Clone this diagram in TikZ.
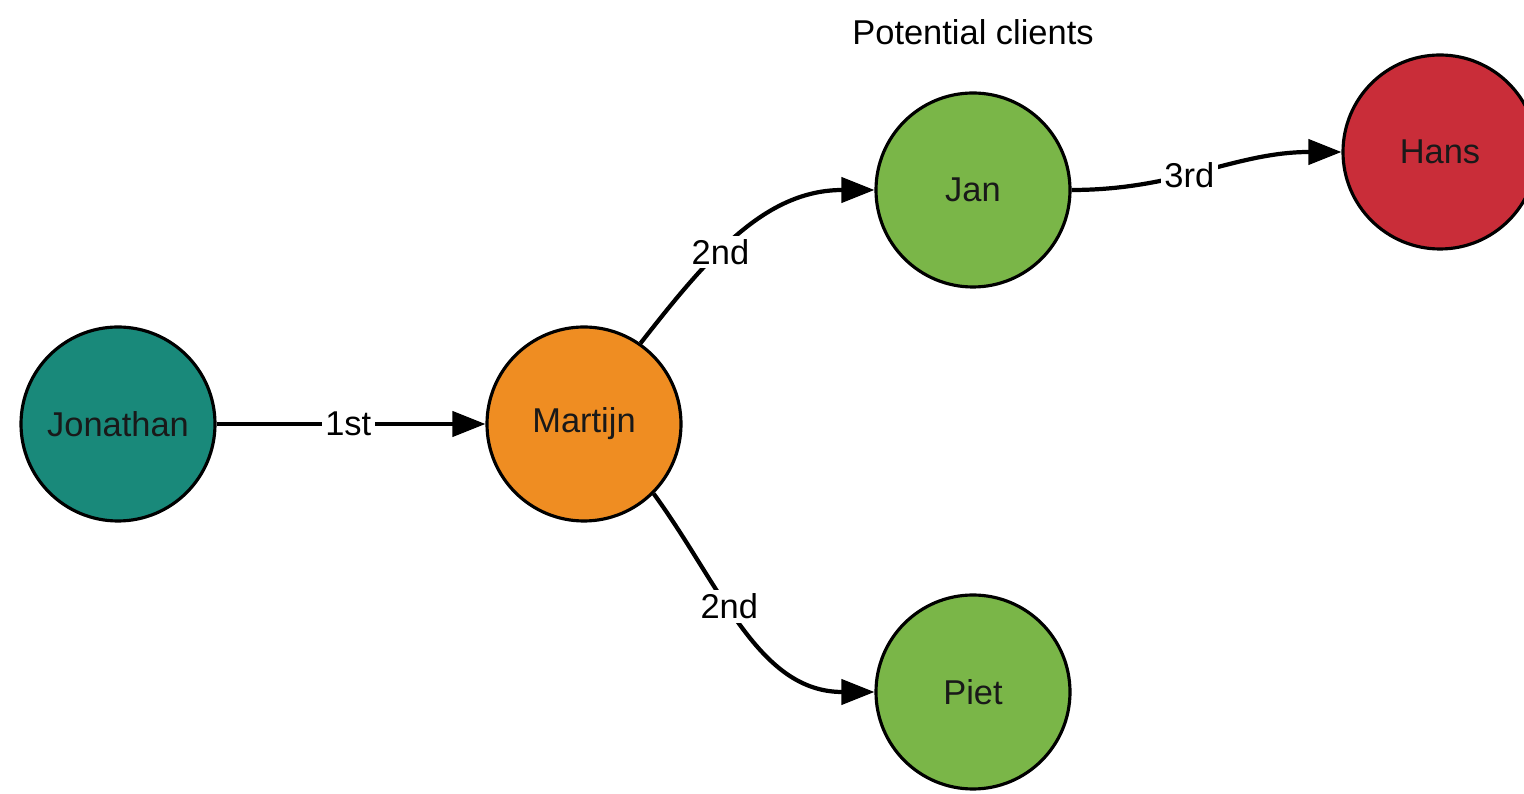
\documentclass[tikz,border=0pt]{standalone}
\usepackage{fontspec}
\setmainfont{Liberation Sans}
\usepackage{tikz}
\usetikzlibrary{arrows.meta}
\usetikzlibrary{positioning}
\usepackage{xcolor}
\definecolor{tealc}{HTML}{19897A}
\definecolor{orangec}{HTML}{EF8D22}
\definecolor{greenc}{HTML}{7AB648}
\definecolor{redc}{HTML}{C92D39}

\begin{document}
\begin{tikzpicture}[
	person/.style={circle, draw=black, line width=0.9pt, minimum size=1.94cm, inner sep=0pt, font=\fontsize{9.8}{12}\selectfont, text=black!90},
	link/.style={-{Triangle[length=3.3mm, width=2.5mm]}, line width=1.2pt},
	lbl/.style={fill=white, inner sep=1pt, font=\fontsize{9.8}{12}\selectfont}
	]
	\clip (0,0) rectangle (15.24,7.94);
	
	\node[person, fill=tealc] (jonathan) at (1.18,3.70) {Jonathan};
	\node[person, fill=orangec] (martijn) at (5.84,3.70) {Martijn};
	\node[person, fill=greenc] (jan) at (9.73,6.04) {Jan};
	\node[person, fill=greenc] (piet) at (9.73,1.02) {Piet};
	\node[person, fill=redc] (hans) at (14.40,6.42) {Hans};
	\node[font=\fontsize{9.8}{12}\selectfont] (potential) at (9.73,7.62) {Potential clients};
	
	\draw[link] (jonathan) -- node[lbl, pos=0.49] {1st} (martijn);
	\draw[link] (martijn.55) to[out=52, in=180] node[lbl, pos=0.40] {2nd} (jan.west);
	\draw[link] (martijn.-45) to[out=-54, in=180] node[lbl, pos=0.41] {2nd} (piet.west);
	\draw[link] (jan.east) to[out=0, in=180] node[lbl, pos=0.43] {3rd} (hans.west);
	
\end{tikzpicture}
\end{document}
